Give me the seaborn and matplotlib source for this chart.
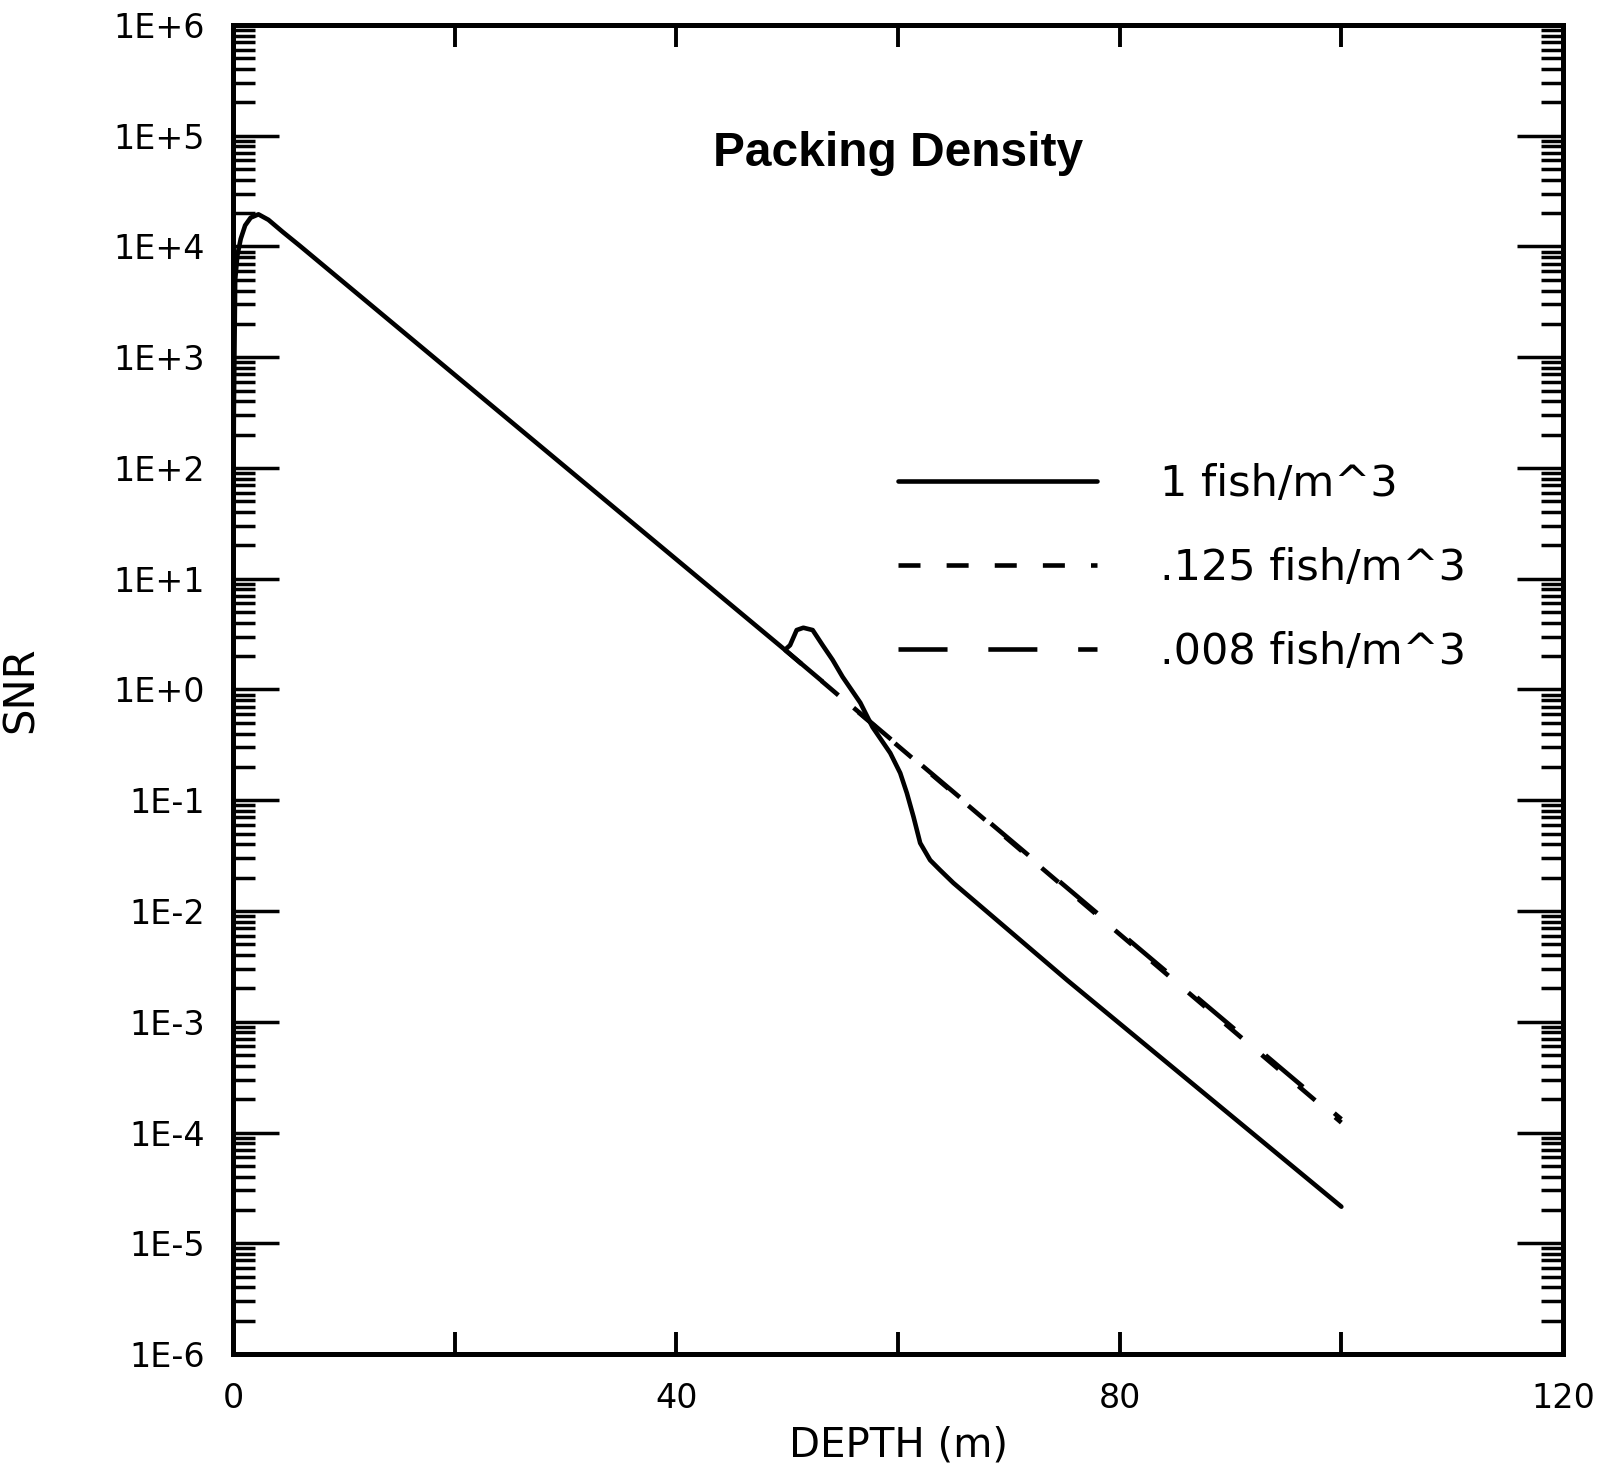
import numpy as np
import pandas as pd
import matplotlib
matplotlib.use("Agg")
import matplotlib.pyplot as plt
import seaborn as sns
from matplotlib.ticker import LogLocator, FuncFormatter, NullFormatter, NullLocator
from matplotlib.lines import Line2D

# ---------------- data ----------------
series_labels = ["1 fish/m^3", ".125 fish/m^3", ".008 fish/m^3"]

depth_1 = [0.0, 0.08, 0.2, 0.4, 0.7, 1.1, 1.6, 2.3, 3.2, 4.5, 6.0, 49.8, 50.26, 50.86,
           51.46, 52.3, 53.2, 54.1, 55.0, 56.6, 57.7, 59.3, 60.2, 60.8, 61.4, 62.0,
           62.9, 63.8, 65.0, 75.25, 100.0]
snr_1 = [2.0, 316, 5010, 8320, 11700, 15500, 18200, 19500, 17400, 13500, 10200, 2.28,
         2.51, 3.44, 3.61, 3.44, 2.51, 1.85, 1.30, 0.759, 0.458, 0.267, 0.176, 0.116,
         0.0708, 0.0411, 0.0288, 0.0234, 0.0179, 0.00238, 2.14e-5]

depth_125 = [49.8, 100.0]
snr_125 = [2.28, 1.23e-4]

depth_008 = [49.8, 100.0]
snr_008 = [2.28, 1.32e-4]

x_ticks = [0, 20, 40, 60, 80, 100, 120]
x_tick_labels = ["0", "", "40", "", "80", "", "120"]

df = pd.concat([
    pd.DataFrame({"depth": depth_1, "snr": snr_1, "density": series_labels[0]}),
    pd.DataFrame({"depth": depth_125, "snr": snr_125, "density": series_labels[1]}),
    pd.DataFrame({"depth": depth_008, "snr": snr_008, "density": series_labels[2]}),
], ignore_index=True)

# ---------------- styling ----------------
sns.set_style("white")
plt.rcParams["font.family"] = ["DejaVu Sans"]
plt.rcParams["text.color"] = "black"
plt.rcParams["axes.labelcolor"] = "black"

LW = 3.3
dash_map = {
    series_labels[0]: "",
    series_labels[1]: (4.8, 5.7),
    series_labels[2]: (10.7, 8.9),
}

fig = plt.figure(figsize=(16, 14.67), dpi=100)
ax = fig.add_axes([0.1456, 0.077, 0.8313, 0.906])

sns.lineplot(data=df, x="depth", y="snr", style="density",
             style_order=[series_labels[1], series_labels[2], series_labels[0]],
             dashes=dash_map, color="black", linewidth=LW,
             estimator=None, sort=False, legend=False, ax=ax)

ax.set_yscale("log")
ax.set_xlim(0, 120)
ax.set_ylim(1e-6, 1e6)

ax.yaxis.set_major_locator(LogLocator(base=10, numticks=30))
ax.yaxis.set_minor_locator(LogLocator(base=10, subs=np.arange(2, 10), numticks=30))
ax.yaxis.set_major_formatter(FuncFormatter(lambda v, p: f"1E{int(round(np.log10(v))):+d}"))
ax.yaxis.set_minor_formatter(NullFormatter())

ax.set_xticks(x_ticks)
ax.set_xticklabels(x_tick_labels)
ax.xaxis.set_minor_locator(NullLocator())

ax.tick_params(axis="y", which="major", direction="in", length=33, width=2.5,
               left=True, right=True, pad=20, labelsize=24, colors="black")
ax.tick_params(axis="y", which="minor", direction="in", length=16, width=2.5,
               left=True, right=True, colors="black")
ax.tick_params(axis="x", which="major", direction="in", length=16, width=2.8,
               top=True, bottom=True, pad=20, labelsize=24, colors="black")

for sp in ax.spines.values():
    sp.set_visible(True)
    sp.set_linewidth(3.6)
    sp.set_color("black")

ax.set_xlabel("DEPTH (m)", fontsize=29, color="black")
ax.set_ylabel("SNR", fontsize=30, color="black")
ax.xaxis.set_label_coords(0.5, -0.054)
ax.yaxis.set_label_coords(-0.1436, 0.5)

ax.text(0.5, 0.894, "Packing Density", transform=ax.transAxes, ha="center",
        va="baseline", fontsize=34.5, fontweight="bold",
        family=["Liberation Sans", "DejaVu Sans"], color="black")

handles = [Line2D([], [], color="black", lw=LW, linestyle=(0, dash_map[s]) if dash_map[s] else "-")
           for s in series_labels]
ax.legend(handles, series_labels, loc="center left", bbox_to_anchor=(0.5, 0.5913),
          frameon=False, fontsize=31, handlelength=4.62, handletextpad=1.46,
          labelspacing=0.98, borderpad=0, borderaxespad=0)

fig.savefig("out.png", dpi=100)
